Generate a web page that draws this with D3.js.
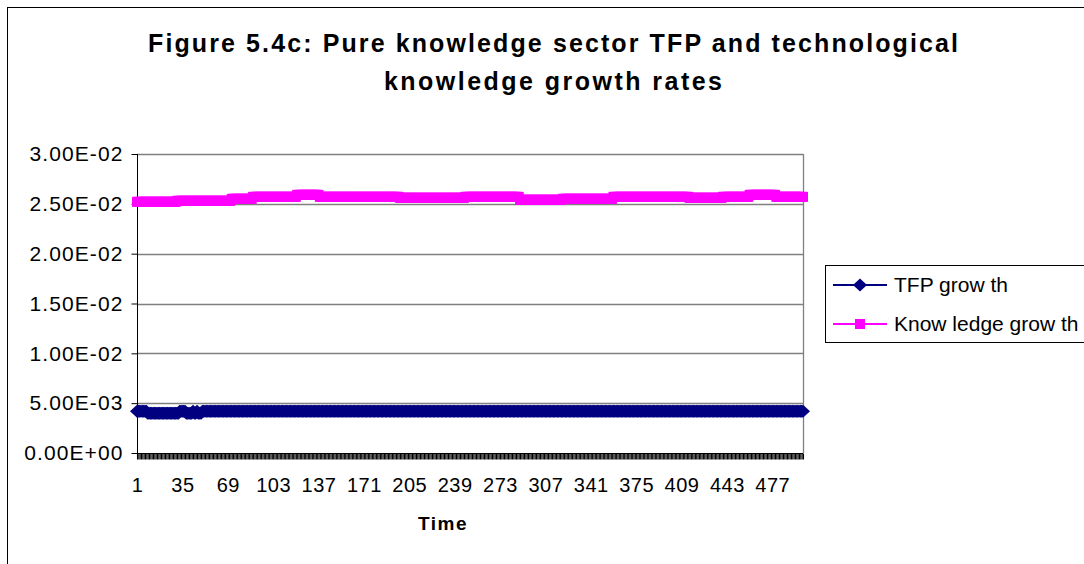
<!DOCTYPE html>
<html>
<head>
<meta charset="utf-8">
<script src="https://cdn.jsdelivr.net/npm/d3@7"></script>
<style>
  body { margin: 0; background: #fff; }
  svg { display: block; font-family: "Liberation Sans", Arial, sans-serif; }
</style>
</head>
<body>
<svg id="chart" width="1084" height="564"></svg>
<script>
// data (500 time steps)
var categories = d3.range(1, 501);

var tfpGrowth = [
  .0042,.0042,.0042,.0042,.0042,.0042,.0042,.0042,.0040,.0040, .0040,.0040,.0040,.0040,.0040,.0040,.0040,.0040,.0040,.0040,
  .0040,.0040,.0040,.0040,.0040,.0040,.0040,.0040,.0040,.0040, .0040,.0040,.0042,.0042,.0042,.0042,.0042,.0040,.0040,.0040,
  .0040,.0040,.0042,.0040,.0040,.0042,.0040,.0040,.0040,.0042, .0042,.0042,.0042,.0042,.0042,.0042,.0042,.0042,.0042,.0042,
  .0042,.0042,.0042,.0042,.0042,.0042,.0042,.0042,.0042,.0042, .0042,.0042,.0042,.0042,.0042,.0042,.0042,.0042,.0042,.0042,
  .0042,.0042,.0042,.0042,.0042,.0042,.0042,.0042,.0042,.0042, .0042,.0042,.0042,.0042,.0042,.0042,.0042,.0042,.0042,.0042,
  .0042,.0042,.0042,.0042,.0042,.0042,.0042,.0042,.0042,.0042, .0042,.0042,.0042,.0042,.0042,.0042,.0042,.0042,.0042,.0042,
  .0042,.0042,.0042,.0042,.0042,.0042,.0042,.0042,.0042,.0042, .0042,.0042,.0042,.0042,.0042,.0042,.0042,.0042,.0042,.0042,
  .0042,.0042,.0042,.0042,.0042,.0042,.0042,.0042,.0042,.0042, .0042,.0042,.0042,.0042,.0042,.0042,.0042,.0042,.0042,.0042,
  .0042,.0042,.0042,.0042,.0042,.0042,.0042,.0042,.0042,.0042, .0042,.0042,.0042,.0042,.0042,.0042,.0042,.0042,.0042,.0042,
  .0042,.0042,.0042,.0042,.0042,.0042,.0042,.0042,.0042,.0042, .0042,.0042,.0042,.0042,.0042,.0042,.0042,.0042,.0042,.0042,
  .0042,.0042,.0042,.0042,.0042,.0042,.0042,.0042,.0042,.0042, .0042,.0042,.0042,.0042,.0042,.0042,.0042,.0042,.0042,.0042,
  .0042,.0042,.0042,.0042,.0042,.0042,.0042,.0042,.0042,.0042, .0042,.0042,.0042,.0042,.0042,.0042,.0042,.0042,.0042,.0042,
  .0042,.0042,.0042,.0042,.0042,.0042,.0042,.0042,.0042,.0042, .0042,.0042,.0042,.0042,.0042,.0042,.0042,.0042,.0042,.0042,
  .0042,.0042,.0042,.0042,.0042,.0042,.0042,.0042,.0042,.0042, .0042,.0042,.0042,.0042,.0042,.0042,.0042,.0042,.0042,.0042,
  .0042,.0042,.0042,.0042,.0042,.0042,.0042,.0042,.0042,.0042, .0042,.0042,.0042,.0042,.0042,.0042,.0042,.0042,.0042,.0042,
  .0042,.0042,.0042,.0042,.0042,.0042,.0042,.0042,.0042,.0042, .0042,.0042,.0042,.0042,.0042,.0042,.0042,.0042,.0042,.0042,
  .0042,.0042,.0042,.0042,.0042,.0042,.0042,.0042,.0042,.0042, .0042,.0042,.0042,.0042,.0042,.0042,.0042,.0042,.0042,.0042,
  .0042,.0042,.0042,.0042,.0042,.0042,.0042,.0042,.0042,.0042, .0042,.0042,.0042,.0042,.0042,.0042,.0042,.0042,.0042,.0042,
  .0042,.0042,.0042,.0042,.0042,.0042,.0042,.0042,.0042,.0042, .0042,.0042,.0042,.0042,.0042,.0042,.0042,.0042,.0042,.0042,
  .0042,.0042,.0042,.0042,.0042,.0042,.0042,.0042,.0042,.0042, .0042,.0042,.0042,.0042,.0042,.0042,.0042,.0042,.0042,.0042,
  .0042,.0042,.0042,.0042,.0042,.0042,.0042,.0042,.0042,.0042, .0042,.0042,.0042,.0042,.0042,.0042,.0042,.0042,.0042,.0042,
  .0042,.0042,.0042,.0042,.0042,.0042,.0042,.0042,.0042,.0042, .0042,.0042,.0042,.0042,.0042,.0042,.0042,.0042,.0042,.0042,
  .0042,.0042,.0042,.0042,.0042,.0042,.0042,.0042,.0042,.0042, .0042,.0042,.0042,.0042,.0042,.0042,.0042,.0042,.0042,.0042,
  .0042,.0042,.0042,.0042,.0042,.0042,.0042,.0042,.0042,.0042, .0042,.0042,.0042,.0042,.0042,.0042,.0042,.0042,.0042,.0042,
  .0042,.0042,.0042,.0042,.0042,.0042,.0042,.0042,.0042,.0042, .0042,.0042,.0042,.0042,.0042,.0042,.0042,.0042,.0042,.0042
];

var knowledgeGrowth = [
  .0252,.0252,.0252,.0252,.0252,.0252,.0252,.0252,.0252,.0252, .0252,.0252,.0252,.0252,.0252,.0252,.0252,.0252,.0252,.0252,
  .0252,.0252,.0252,.0252,.0252,.0252,.0252,.0252,.0252,.0252, .0253,.0253,.0253,.0253,.0253,.0253,.0253,.0253,.0253,.0253,
  .0253,.0253,.0253,.0253,.0253,.0253,.0253,.0253,.0253,.0253, .0253,.0253,.0253,.0253,.0253,.0253,.0253,.0253,.0253,.0253,
  .0253,.0253,.0253,.0253,.0253,.0253,.0253,.0253,.0253,.0253, .0253,.0255,.0255,.0255,.0255,.0255,.0255,.0255,.0255,.0255,
  .0255,.0255,.0255,.0255,.0255,.0255,.0255,.0257,.0257,.0257, .0257,.0257,.0257,.0257,.0257,.0257,.0257,.0257,.0257,.0257,
  .0257,.0257,.0257,.0257,.0257,.0257,.0257,.0257,.0257,.0257, .0257,.0257,.0257,.0257,.0257,.0257,.0257,.0257,.0257,.0257,
  .0259,.0259,.0259,.0259,.0259,.0259,.0259,.0259,.0259,.0259, .0259,.0259,.0259,.0259,.0259,.0259,.0259,.0257,.0257,.0257,
  .0257,.0257,.0257,.0257,.0257,.0257,.0257,.0257,.0257,.0257, .0257,.0257,.0257,.0257,.0257,.0257,.0257,.0257,.0257,.0257,
  .0257,.0257,.0257,.0257,.0257,.0257,.0257,.0257,.0257,.0257, .0257,.0257,.0257,.0257,.0257,.0257,.0257,.0257,.0257,.0257,
  .0257,.0257,.0257,.0257,.0257,.0257,.0257,.0257,.0257,.0257, .0257,.0257,.0257,.0257,.0257,.0257,.0257,.0256,.0256,.0256,
  .0256,.0256,.0256,.0256,.0256,.0256,.0256,.0256,.0256,.0256, .0256,.0256,.0256,.0256,.0256,.0256,.0256,.0256,.0256,.0256,
  .0256,.0256,.0256,.0256,.0256,.0256,.0256,.0256,.0256,.0256, .0256,.0256,.0256,.0256,.0256,.0256,.0256,.0256,.0256,.0256,
  .0256,.0256,.0256,.0256,.0256,.0256,.0257,.0257,.0257,.0257, .0257,.0257,.0257,.0257,.0257,.0257,.0257,.0257,.0257,.0257,
  .0257,.0257,.0257,.0257,.0257,.0257,.0257,.0257,.0257,.0257, .0257,.0257,.0257,.0257,.0257,.0257,.0257,.0257,.0257,.0257,
  .0257,.0257,.0257,.0257,.0257,.0257,.0257,.0254,.0254,.0254, .0254,.0254,.0254,.0254,.0254,.0254,.0254,.0254,.0254,.0254,
  .0254,.0254,.0254,.0254,.0254,.0254,.0254,.0254,.0254,.0254, .0254,.0254,.0254,.0254,.0254,.0254,.0254,.0254,.0254,.0255,
  .0255,.0255,.0255,.0255,.0255,.0255,.0255,.0255,.0255,.0255, .0255,.0255,.0255,.0255,.0255,.0255,.0255,.0255,.0255,.0255,
  .0255,.0255,.0255,.0255,.0255,.0255,.0255,.0255,.0255,.0255, .0255,.0255,.0255,.0255,.0255,.0255,.0255,.0257,.0257,.0257,
  .0257,.0257,.0257,.0257,.0257,.0257,.0257,.0257,.0257,.0257, .0257,.0257,.0257,.0257,.0257,.0257,.0257,.0257,.0257,.0257,
  .0257,.0257,.0257,.0257,.0257,.0257,.0257,.0257,.0257,.0257, .0257,.0257,.0257,.0257,.0257,.0257,.0257,.0257,.0257,.0257,
  .0257,.0257,.0257,.0257,.0257,.0257,.0257,.0257,.0257,.0257, .0257,.0257,.0257,.0257,.0256,.0256,.0256,.0256,.0256,.0256,
  .0256,.0256,.0256,.0256,.0256,.0256,.0256,.0256,.0256,.0256, .0256,.0256,.0256,.0256,.0256,.0256,.0256,.0256,.0256,.0257,
  .0257,.0257,.0257,.0257,.0257,.0257,.0257,.0257,.0257,.0257, .0257,.0257,.0257,.0257,.0257,.0257,.0257,.0257,.0257,.0259,
  .0259,.0259,.0259,.0259,.0259,.0259,.0259,.0259,.0259,.0259, .0259,.0259,.0259,.0259,.0259,.0259,.0259,.0259,.0259,.0257,
  .0257,.0257,.0257,.0257,.0257,.0257,.0257,.0257,.0257,.0257, .0257,.0257,.0257,.0257,.0257,.0257,.0257,.0257,.0257,.0257
];

var seriesNames = ["TFP grow th", "Know ledge grow th"];
var seriesColors = ["#000080", "#ff00ff"];

var yTicks = [0, 0.005, 0.01, 0.015, 0.02, 0.025, 0.03];
var yTickLabels = ["0.00E+00", "5.00E-03", "1.00E-02", "1.50E-02", "2.00E-02", "2.50E-02", "3.00E-02"];
var xTickLabels = ["1", "35", "69", "103", "137", "171", "205", "239", "273", "307", "341", "375", "409", "443", "477"];

var titleLines = ["Figure 5.4c: Pure knowledge sector TFP and technological", "knowledge growth rates"];
var xTitle = "Time";

var svg = d3.select("svg#chart"),
    plot = {left: 137, right: 803, top: 154, bottom: 453};

var x = d3.scalePoint()
    .domain(categories)
    .range([plot.left, plot.right]);

var y = d3.scaleLinear()
    .domain([0, 0.03])
    .range([plot.bottom, plot.top]);

// outer chart frame (runs off the right and bottom edges)
svg.append("rect")
    .attr("x", 7.5).attr("y", 7.5)
    .attr("width", 1200).attr("height", 700)
    .attr("fill", "#fff")
    .attr("stroke", "#000");

// title
svg.append("g")
    .attr("font-weight", "bold")
    .attr("font-size", 25)
    .attr("text-anchor", "middle")
  .selectAll("text")
  .data(titleLines)
  .enter().append("text")
    .attr("x", 553)
    .attr("y", function(d, i) { return 52 + i * 38; })
    .attr("textLength", function(d, i) { return i == 0 ? 810 : 338; })
    .attr("lengthAdjust", "spacing")
    .text(function(d) { return d; });

// gridlines
svg.append("g")
  .selectAll("line")
  .data(yTicks.slice(1))
  .enter().append("line")
    .attr("x1", plot.left).attr("x2", plot.right)
    .attr("y1", function(d) { return Math.round(y(d)) + 0.5; })
    .attr("y2", function(d) { return Math.round(y(d)) + 0.5; })
    .attr("stroke", "#808080")
    .attr("stroke-width", 1.3);

// right edge of plot area
svg.append("line")
    .attr("x1", plot.right + 0.5).attr("x2", plot.right + 0.5)
    .attr("y1", plot.top).attr("y2", plot.bottom)
    .attr("stroke", "#808080")
    .attr("stroke-width", 1.3);

// axes
var yAxis = svg.append("g")
    .attr("transform", "translate(" + (plot.left + 0.5) + ",0)")
    .call(d3.axisLeft(y)
      .tickValues(yTicks)
      .tickSize(6)
      .tickFormat(function(d, i) { return yTickLabels[i]; }));

yAxis.select(".domain").attr("d", "M0," + plot.top + "V" + plot.bottom);
yAxis.selectAll("text")
    .attr("x", -14)
    .attr("font-family", "Liberation Sans, Arial, sans-serif")
    .attr("font-size", 21)
    .attr("letter-spacing", 1.1)
    .attr("fill", "#000");

var xAxis = svg.append("g")
    .attr("transform", "translate(0," + (plot.bottom + 0.5) + ")")
    .call(d3.axisBottom(x)
      .tickSize(6)
      .tickFormat(function(d) { return xTickLabels.indexOf(String(d)) >= 0 ? d : ""; }));

xAxis.select(".domain").attr("d", "M" + plot.left + ",0H" + plot.right);
xAxis.selectAll(".tick line").attr("stroke-width", 1.1);
xAxis.selectAll("text")
    .attr("y", 24)
    .attr("dy", "0.71em")
    .attr("font-family", "Liberation Sans, Arial, sans-serif")
    .attr("font-size", 20)
    .attr("letter-spacing", 0.5)
    .attr("fill", "#000");

svg.append("text")
    .attr("x", 443)
    .attr("y", 530)
    .attr("text-anchor", "middle")
    .attr("font-weight", "bold")
    .attr("font-size", 19)
    .attr("letter-spacing", 1.5)
    .text(xTitle);

// series
var diamond = "M0,-6.5L7,0L0,6.5L-7,0Z",
    square = "M-5,-5H5V5H-5Z";
var series = [
  {name: seriesNames[0], values: tfpGrowth, color: seriesColors[0], marker: diamond},
  {name: seriesNames[1], values: knowledgeGrowth, color: seriesColors[1], marker: square}
];

var line = d3.line()
    .x(function(d, i) { return x(categories[i]); })
    .y(function(d) { return y(d); });

var sg = svg.append("g")
  .selectAll("g")
  .data(series)
  .enter().append("g");

sg.append("path")
    .attr("d", function(d) { return line(d.values); })
    .attr("fill", "none")
    .attr("stroke", function(d) { return d.color; })
    .attr("stroke-width", 2);

sg.selectAll(".marker")
  .data(function(d) { return d.values.map(function(v, i) { return {v: v, i: i, s: d}; }); })
  .enter().append("path")
    .attr("class", "marker")
    .attr("transform", function(d) { return "translate(" + x(categories[d.i]) + "," + y(d.v) + ")"; })
    .attr("d", function(d) { return d.s.marker; })
    .attr("fill", function(d) { return d.s.color; });

// legend
var legend = svg.append("g");

legend.append("rect")
    .attr("x", 825.5).attr("y", 265.5)
    .attr("width", 300).attr("height", 77)
    .attr("fill", "#fff")
    .attr("stroke", "#000");

var item = legend.selectAll(".item")
  .data(series)
  .enter().append("g")
    .attr("class", "item")
    .attr("transform", function(d, i) { return "translate(0," + (285 + i * 39) + ")"; });

item.append("line")
    .attr("x1", 833).attr("x2", 887)
    .attr("stroke", function(d) { return d.color; })
    .attr("stroke-width", 2);

item.append("path")
    .attr("transform", "translate(860,0)")
    .attr("d", function(d) { return d.marker; })
    .attr("fill", function(d) { return d.color; });

item.append("text")
    .attr("x", 894)
    .attr("dy", "0.35em")
    .attr("font-size", 21)
    .text(function(d) { return d.name; });
</script>
</body>
</html>
